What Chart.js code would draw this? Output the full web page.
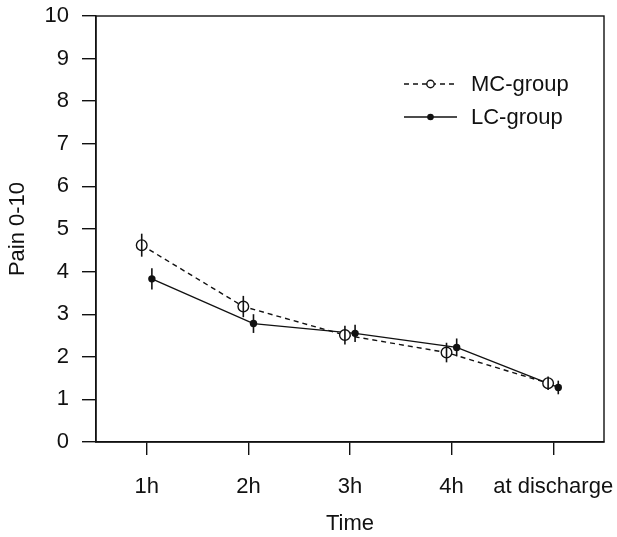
<!DOCTYPE html>
<html>
<head>
<meta charset="utf-8">
<script src="https://cdn.jsdelivr.net/npm/chart.js@4.4.1/dist/chart.umd.min.js"></script>
<style>
  html, body { margin: 0; padding: 0; background: #fff; }
</style>
</head>
<body>
<canvas id="painChart" width="617" height="537"></canvas>
<script>
// Data
const timepoints = ['1h', '2h', '3h', '4h', 'at discharge'];
const mcMean = [4.62, 3.18, 2.51, 2.10, 1.38];
const mcErr = [0.27, 0.25, 0.22, 0.23, 0.16];
const lcMean = [3.83, 2.78, 2.55, 2.22, 1.28];
const lcErr = [0.25, 0.22, 0.20, 0.21, 0.16];
const yTicks = [0, 1, 2, 3, 4, 5, 6, 7, 8, 9, 10];

const dodge = 0.05; // groups drawn side by side around each time point
const font = { family: '"Liberation Sans", Arial, sans-serif', size: 22 };
const ink = '#111';

const mcPoints = mcMean.map((v, i) => ({ x: i + 1 - dodge, y: v }));
const lcPoints = lcMean.map((v, i) => ({ x: i + 1 + dodge, y: v }));

// box around the plot region
const framePlugin = {
  id: 'frame',
  afterDraw(chart) {
    const { ctx, chartArea: a } = chart;
    ctx.save();
    ctx.strokeStyle = ink;
    ctx.lineWidth = 1.4;
    ctx.strokeRect(a.left, a.top, a.right - a.left, a.bottom - a.top);
    ctx.restore();
  }
};

// vertical error bars without caps
const errorBars = {
  id: 'errorBars',
  afterDatasetsDraw(chart) {
    const { ctx, scales: { x, y } } = chart;
    const groups = [[mcPoints, mcErr], [lcPoints, lcErr]];
    ctx.save();
    ctx.strokeStyle = ink;
    ctx.lineWidth = 1.6;
    groups.forEach(([pts, err]) => {
      pts.forEach((p, i) => {
        const px = x.getPixelForValue(p.x);
        ctx.beginPath();
        ctx.moveTo(px, y.getPixelForValue(p.y - err[i]));
        ctx.lineTo(px, y.getPixelForValue(p.y + err[i]));
        ctx.stroke();
      });
    });
    ctx.restore();
  }
};

// legend drawn like the R one: line with marker in the middle
const lineLegend = {
  id: 'lineLegend',
  afterDraw(chart) {
    const { ctx } = chart;
    const rows = [
      { label: 'MC-group', dash: [5, 4], filled: false, y: 84 },
      { label: 'LC-group', dash: [], filled: true, y: 117 }
    ];
    ctx.save();
    ctx.strokeStyle = ink;
    ctx.fillStyle = ink;
    ctx.lineWidth = 1.4;
    rows.forEach(r => {
      ctx.setLineDash(r.dash);
      ctx.beginPath();
      ctx.moveTo(404, r.y);
      ctx.lineTo(457, r.y);
      ctx.stroke();
      ctx.setLineDash([]);
      ctx.beginPath();
      ctx.arc(430.5, r.y, r.filled ? 3.3 : 3.7, 0, Math.PI * 2);
      if (r.filled) {
        ctx.fill();
      } else {
        ctx.fillStyle = '#fff';
        ctx.fill();
        ctx.stroke();
        ctx.fillStyle = ink;
      }
      ctx.font = `${font.size}px ${font.family}`;
      ctx.textAlign = 'left';
      ctx.textBaseline = 'middle';
      ctx.fillText(r.label, 471, r.y + 1);
    });
    ctx.restore();
  }
};

const ctx = document.getElementById('painChart').getContext('2d');
new Chart(ctx, {
  type: 'line',
  data: {
    datasets: [
      {
        label: 'MC-group',
        data: mcPoints,
        borderColor: ink,
        borderWidth: 1.4,
        borderDash: [5, 4],
        pointStyle: 'circle',
        pointRadius: 5.3,
        pointBorderWidth: 1.4,
        pointBackgroundColor: '#fff',
        pointBorderColor: ink,
        tension: 0
      },
      {
        label: 'LC-group',
        data: lcPoints,
        borderColor: ink,
        borderWidth: 1.4,
        pointStyle: 'circle',
        pointRadius: 3.7,
        pointBorderWidth: 0,
        pointBackgroundColor: ink,
        tension: 0
      }
    ]
  },
  options: {
    responsive: false,
    animation: false,
    devicePixelRatio: 1,
    layout: { padding: { top: 16, right: 13, left: 0, bottom: 0 } },
    plugins: {
      legend: { display: false },
      tooltip: { enabled: false }
    },
    scales: {
      x: {
        type: 'linear',
        min: 0.5,
        max: 5.5,
        afterBuildTicks(scale) {
          scale.ticks = timepoints.map((_, i) => ({ value: i + 1 }));
        },
        afterFit(scale) {
          scale.height = 95;
          scale.paddingLeft = 0;
          scale.paddingRight = 0;
        },
        ticks: {
          color: ink,
          font,
          padding: 19,
          maxRotation: 0,
          autoSkip: false,
          callback: (v) => timepoints[v - 1]
        },
        grid: { drawOnChartArea: false, tickLength: 13, color: ink, lineWidth: 1.4 },
        border: { color: ink, width: 1.4 },
        title: { display: true, text: 'Time', color: ink, font, padding: { top: 1, bottom: 0 } }
      },
      y: {
        min: 0,
        max: 10,
        afterBuildTicks(scale) {
          scale.ticks = yTicks.map(v => ({ value: v }));
        },
        afterFit(scale) {
          scale.width = 96;
          scale.paddingTop = 0;
          scale.paddingBottom = 0;
        },
        ticks: { color: ink, font, padding: 13 },
        grid: { drawOnChartArea: false, tickLength: 14, color: ink, lineWidth: 1.4 },
        border: { color: ink, width: 1.4 },
        title: { display: true, text: 'Pain 0-10', color: ink, font, padding: { top: 5, bottom: 0 } }
      }
    }
  },
  plugins: [framePlugin, errorBars, lineLegend]
});
</script>
</body>
</html>
